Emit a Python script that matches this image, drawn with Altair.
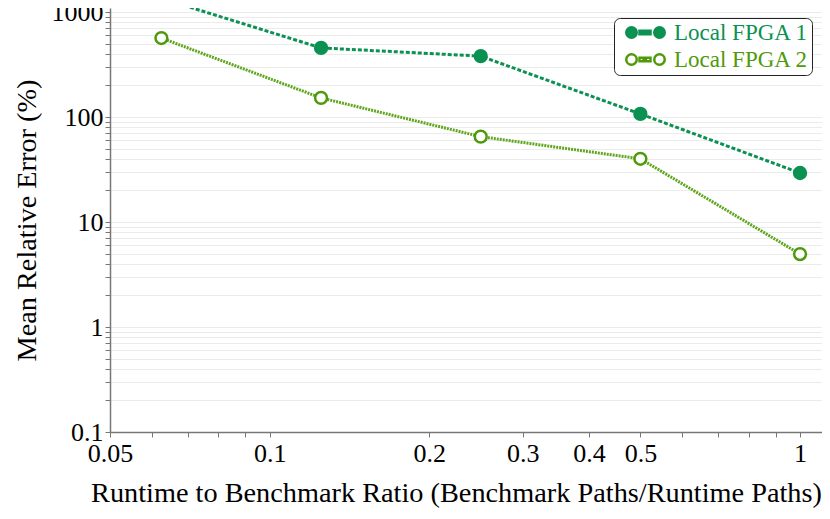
import altair as alt
import pandas as pd

# ---- data ----
ratio = [0.0625, 0.125, 0.25, 0.5, 1.0]
fpga1 = [1350, 455, 380, 107, 29.3]
fpga2 = [565, 152, 65, 40, 4.95]
series_names = ["Local FPGA 1", "Local FPGA 2"]

x_ticks = [0.05, 0.06, 0.07, 0.08, 0.09, 0.1, 0.2, 0.3, 0.4, 0.5, 0.6, 0.7, 0.8, 0.9, 1.0]
x_labels = [0.05, 0.1, 0.2, 0.3, 0.4, 0.5, 1.0]
y_ticks = [0.1, 0.2, 0.3, 0.4, 0.5, 0.6, 0.7, 0.8, 0.9,
           1, 2, 3, 4, 5, 6, 7, 8, 9,
           10, 20, 30, 40, 50, 60, 70, 80, 90,
           100, 200, 300, 400, 500, 600, 700, 800, 900, 1000]
y_labels = [0.1, 1, 10, 100, 1000]

c1 = "#0b9152"
c2 = "#4f9a0a"

rows = []
for s, vals in zip(series_names, [fpga1, fpga2]):
    for x, v in zip(ratio, vals):
        rows.append({"series": s, "ratio": x, "err": v})
df = pd.DataFrame(rows)

FONT = "Liberation Serif"

xscale = alt.Scale(type="log", domain=[0.05, 1.1], nice=False)
yscale = alt.Scale(type="log", domain=[0.1, 1092], nice=False)

xlab = "[" + ",".join(str(v) for v in x_labels) + "]"
ylab = "[" + ",".join(str(v) for v in y_labels) + "]"

xenc = alt.X("ratio:Q", scale=xscale,
             axis=alt.Axis(values=x_ticks, title="Runtime to Benchmark Ratio (Benchmark Paths/Runtime Paths)",
                           labelExpr=f"indexof({xlab}, datum.value) >= 0 ? format(datum.value, '~g') : ''",
                           grid=False, labelOverlap=False, labelFlush=False, titleX=346))
yenc = alt.Y("err:Q", scale=yscale,
             axis=alt.Axis(values=y_ticks, title="Mean Relative Error (%)",
                           labelExpr=f"indexof({ylab}, datum.value) >= 0 ? format(datum.value, '~g') : ''",
                           grid=True, labelOverlap=False, labelFlush=False))

base = alt.Chart(df)

line1 = base.transform_filter(alt.datum.series == series_names[0]).mark_line(
    color=c1, strokeWidth=3, strokeDash=[4, 2], clip=True).encode(x=xenc, y=yenc)
line2 = base.transform_filter(alt.datum.series == series_names[1]).mark_line(
    color="#5ea61c", strokeWidth=3, strokeDash=[2, 1], clip=True).encode(x=xenc, y=yenc)

sym_path = ("M-1.75,0A1.05,1.05 0 1,1 -3.85,0A1.05,1.05 0 1,1 -1.75,0Z "
            "M3.85,0A1.05,1.05 0 1,1 1.75,0A1.05,1.05 0 1,1 3.85,0Z "
            "M-1.2,-0.35H-0.4V0.35H-1.2Z M0.1,-0.35H1.0V0.35H0.1Z")

legend = alt.Legend(title=None, orient="top-right", offset=10,
                    symbolType=sym_path, symbolSize=100, symbolStrokeWidth=2.5,
                    symbolOffset=17, labelOffset=17,
                    labelFont=FONT, labelFontSize=23,
                    labelColor=alt.ExprRef(expr=f"datum.label == '{series_names[0]}' ? '{c1}' : '{c2}'"),
                    strokeColor="#222222", cornerRadius=6, fillColor="white",
                    padding=3, rowPadding=3)

points = base.mark_point(shape="circle", size=140, strokeWidth=2.5, opacity=1, filled=False, clip=True).encode(
    x=xenc, y=yenc,
    fill=alt.Fill("series:N", scale=alt.Scale(domain=series_names, range=[c1, "white"]), legend=legend),
    stroke=alt.Stroke("series:N", scale=alt.Scale(domain=series_names, range=[c1, c2]), legend=legend),
)

chart = alt.layer(line1, line2, points).properties(
    width=712, height=424,
    autosize=alt.AutoSizeParams(type="none"),
    padding={"left": 102, "top": 0, "right": 0, "bottom": 79},
).configure_view(stroke=None).configure_axis(
    labelFont=FONT, titleFont=FONT, labelFontSize=26, titleFontSize=28.3,
    labelColor="black", titleColor="black", titleFontWeight="normal",
    domainColor="#777777", domainWidth=1.5, tickColor="#777777", tickSize=5,
    gridColor="#ebebeb", gridWidth=1,
).configure_axisX(labelPadding=3, titlePadding=13).configure_axisY(labelPadding=2, titlePadding=10)

chart.save("out.html", embed_options={"renderer": "svg", "actions": False})
